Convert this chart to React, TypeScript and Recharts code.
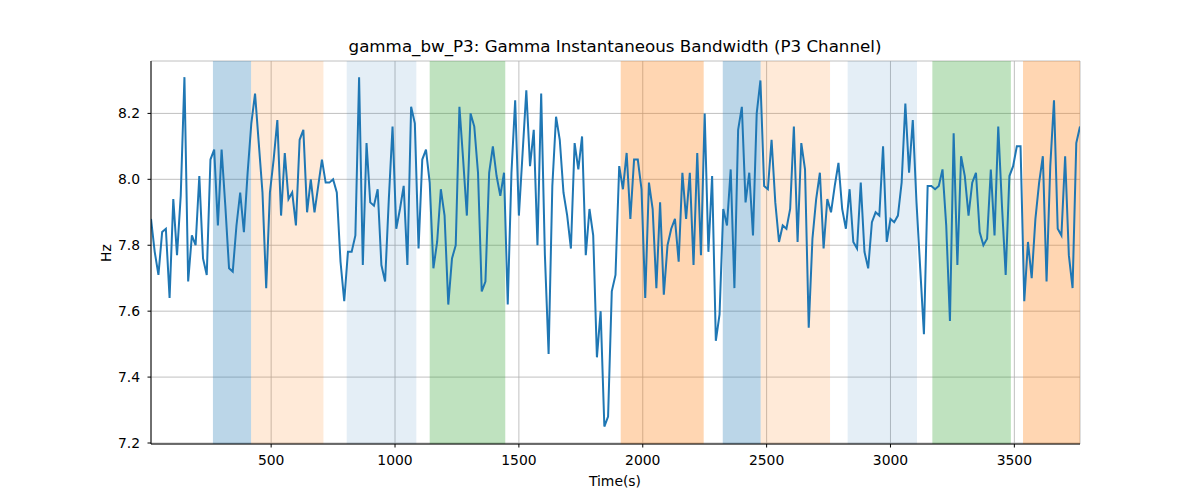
import React from 'react';
import {
  LineChart,
  Line,
  XAxis,
  YAxis,
  CartesianGrid,
  ReferenceArea,
} from 'recharts';

// sampling of the time axis (seconds)
const startTime = 15;
const timeStep = 15;

// instantaneous bandwidth values (Hz)
const bandwidth = [
  7.88, 7.78, 7.71, 7.84, 7.85, 7.64, 7.94, 7.77, 7.95, 8.31,
  7.69, 7.83, 7.8, 8.01, 7.76, 7.71, 8.06, 8.09, 7.86, 8.09,
  7.92, 7.73, 7.72, 7.86, 7.96, 7.84, 8.02, 8.17, 8.26, 8.11,
  7.96, 7.67, 7.96, 8.06, 8.18, 7.89, 8.08, 7.94, 7.96, 7.86,
  8.12, 8.15, 7.9, 8.0, 7.9, 7.98, 8.06, 7.99, 7.99, 8.0,
  7.96, 7.75, 7.63, 7.78, 7.78, 7.83, 8.31, 7.74, 8.11, 7.93,
  7.92, 7.97, 7.74, 7.69, 7.94, 8.16, 7.85, 7.91, 7.98, 7.74,
  8.22, 8.17, 7.79, 8.06, 8.09, 7.99, 7.73, 7.81, 7.97, 7.89,
  7.62, 7.76, 7.8, 8.22, 8.06, 7.89, 8.2, 8.16, 8.02, 7.66,
  7.69, 8.02, 8.1, 8.01, 7.95, 8.02, 7.62, 8.02, 8.24, 7.89,
  8.08, 8.27, 8.04, 8.15, 7.8, 8.26, 7.77, 7.47, 7.98, 8.19,
  8.12, 7.96, 7.89, 7.79, 8.11, 8.03, 8.13, 7.77, 7.91, 7.83,
  7.46, 7.6, 7.25, 7.28, 7.66, 7.71, 8.04, 7.97, 8.08, 7.88,
  8.06, 8.06, 7.97, 7.64, 7.99, 7.91, 7.67, 7.93, 7.65, 7.8,
  7.85, 7.88, 7.75, 8.02, 7.88, 8.02, 7.74, 8.08, 7.77, 8.2,
  7.78, 8.01, 7.51, 7.59, 7.91, 7.86, 8.03, 7.67, 8.15, 8.22,
  7.93, 8.02, 7.83, 8.2, 8.3, 7.98, 7.97, 8.12, 7.93, 7.81,
  7.86, 7.85, 7.91, 8.16, 7.81, 8.11, 8.03, 7.55, 7.82, 7.94,
  8.02, 7.79, 7.94, 7.9, 7.98, 8.05, 7.91, 7.85, 7.97, 7.81,
  7.79, 7.99, 7.78, 7.73, 7.87, 7.9, 7.89, 8.1, 7.81, 7.88,
  7.87, 7.89, 7.99, 8.23, 8.02, 8.18, 7.93, 7.73, 7.53, 7.98,
  7.98, 7.97, 7.98, 8.03, 7.86, 7.57, 8.14, 7.74, 8.07, 8.01,
  7.89, 7.99, 8.02, 7.84, 7.8, 7.82, 8.03, 7.83, 8.16, 7.92,
  7.71, 8.01, 8.04, 8.1, 8.1, 7.63, 7.81, 7.7, 7.88, 7.99,
  8.07, 7.69, 8.04, 8.24, 7.85, 7.83, 8.07, 7.77, 7.67, 8.11,
  8.16,
];

// shaded segments: start, end (s) and kind
const bandStarts = [265, 419, 805, 1140, 1911, 2323, 2476, 2827, 3169, 3535];
const bandEnds = [419, 711, 1086, 1445, 2246, 2476, 2756, 3107, 3486, 3765];
const bandKinds = ['blue', 'peach', 'pale', 'green', 'orange', 'blue', 'peach', 'pale', 'green', 'orange'];

const xTicks = [500, 1000, 1500, 2000, 2500, 3000, 3500];
const yTicks = [7.2, 7.4, 7.6, 7.8, 8.0, 8.2];

const bandStyle: Record<string, { fill: string; opacity: number }> = {
  blue: { fill: '#1f77b4', opacity: 0.3 },
  peach: { fill: '#ff7f0e', opacity: 0.16 },
  pale: { fill: '#1f77b4', opacity: 0.12 },
  green: { fill: '#2ca02c', opacity: 0.3 },
  orange: { fill: '#ff7f0e', opacity: 0.32 },
};

const data = bandwidth.map((v, i) => ({ t: startTime + i * timeStep, hz: v }));

const font = '"DejaVu Sans", sans-serif';
const tickStyle = { fill: '#000', fontSize: 13.9, fontFamily: font };

export default function App() {
  return (
    <div style={{ position: 'absolute', left: 0, top: 0, width: 1200, height: 500, background: '#fff' }}>
      <LineChart
        width={1200}
        height={500}
        data={data}
        margin={{ top: 61, right: 120, left: 0, bottom: 0 }}
      >
        <CartesianGrid stroke="#b0b0b0" strokeWidth={0.8} />
        {bandStarts.map((s, i) => (
          <ReferenceArea
            key={i}
            x1={s}
            x2={bandEnds[i]}
            fill={bandStyle[bandKinds[i]].fill}
            fillOpacity={bandStyle[bandKinds[i]].opacity}
            strokeOpacity={0}
          />
        ))}
        <XAxis
          dataKey="t"
          type="number"
          domain={[15, 3765]}
          ticks={xTicks}
          allowDataOverflow
          height={56}
          tickSize={3.5}
          tickMargin={8}
          tick={tickStyle}
          stroke="#000"
          axisLine={{ stroke: '#000', strokeWidth: 1 }}
        />
        <XAxis
          xAxisId="top"
          orientation="top"
          dataKey="t"
          type="number"
          domain={[15, 3765]}
          height={0}
          tick={false}
          tickLine={false}
          axisLine={{ stroke: '#000', strokeWidth: 1 }}
        />
        <YAxis
          type="number"
          domain={[7.197, 8.359]}
          ticks={yTicks}
          allowDataOverflow
          width={151}
          tickSize={3.5}
          tickMargin={7.5}
          tick={tickStyle}
          tickFormatter={(v: number) => v.toFixed(1)}
          stroke="#000"
          axisLine={{ stroke: '#000', strokeWidth: 1 }}
        />
        <YAxis
          yAxisId="right"
          orientation="right"
          domain={[7.197, 8.359]}
          width={0}
          tick={false}
          tickLine={false}
          axisLine={{ stroke: '#000', strokeWidth: 1 }}
        />
        <Line
          type="linear"
          dataKey="hz"
          stroke="#1f77b4"
          strokeWidth={2}
          dot={false}
          activeDot={false}
          isAnimationActive={false}
        />
      </LineChart>
      <svg
        width={1200}
        height={500}
        style={{ position: 'absolute', left: 0, top: 0, pointerEvents: 'none' }}
      >
        <text x={615} y={52} textAnchor="middle" fontFamily={font} fontSize={16.7} fill="#000">
          gamma_bw_P3: Gamma Instantaneous Bandwidth (P3 Channel)
        </text>
        <text x={615} y={486} textAnchor="middle" fontFamily={font} fontSize={13.9} fill="#000">
          Time(s)
        </text>
        <text
          x={111}
          y={253}
          textAnchor="middle"
          fontFamily={font}
          fontSize={13.9}
          fill="#000"
          transform="rotate(-90 111 253)"
        >
          Hz
        </text>
      </svg>
    </div>
  );
}
